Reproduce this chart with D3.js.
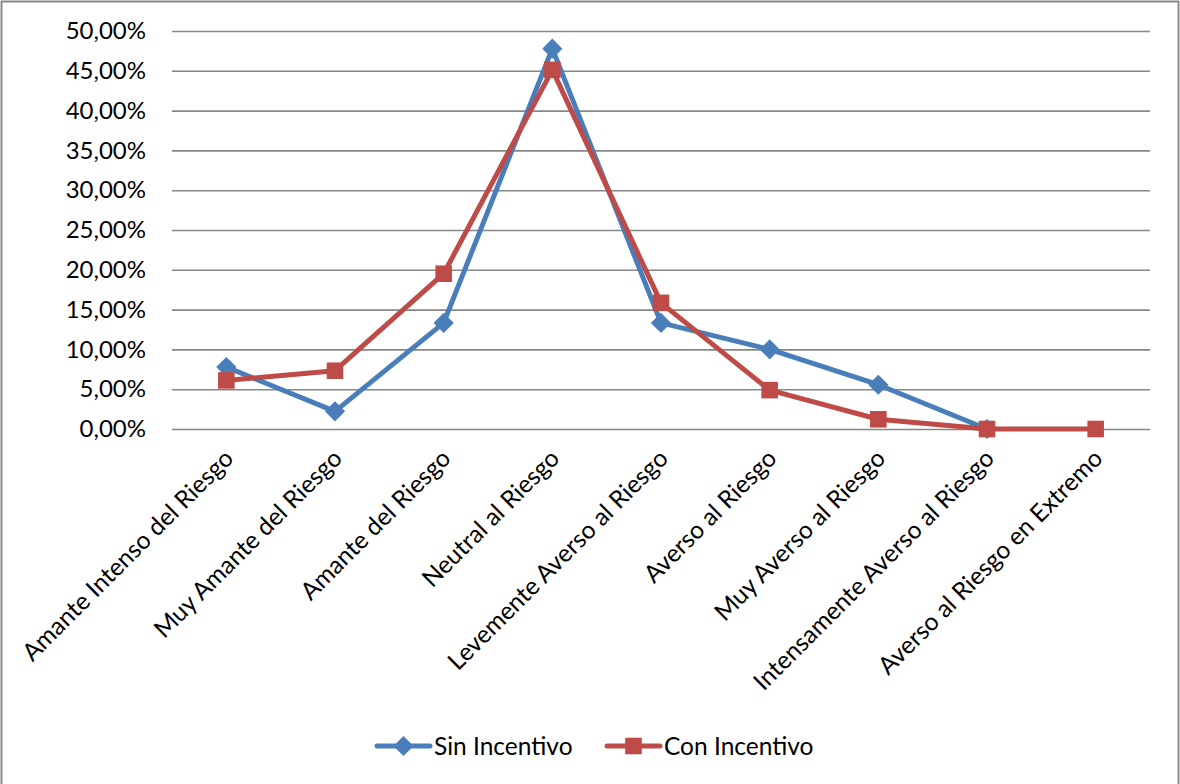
<!DOCTYPE html>
<html>
<head>
<meta charset="utf-8">
<script src="https://cdn.jsdelivr.net/npm/d3@7"></script>
<style>
  html, body { margin: 0; padding: 0; background: #fff; }
  svg { display: block; }
  text { font-family: Lato, "Open Sans", sans-serif; fill: #000; }
</style>
</head>
<body>
<svg id="chart" width="1180" height="784"></svg>
<script>
// Risk-attitude categories
const categories = [
  "Amante Intenso del Riesgo",
  "Muy Amante del Riesgo",
  "Amante del Riesgo",
  "Neutral al Riesgo",
  "Levemente Averso al Riesgo",
  "Averso al Riesgo",
  "Muy Averso al Riesgo",
  "Intensamente Averso al Riesgo",
  "Averso al Riesgo en Extremo"
];
// Share of respondents per category (fractions)
const sinIncentivo = [0.0778, 0.0222, 0.1333, 0.4778, 0.1333, 0.1000, 0.0556, 0.0000, null];
const conIncentivo = [0.0610, 0.0732, 0.1951, 0.4512, 0.1585, 0.0488, 0.0122, 0.0000, 0.0000];
const yTicks = [0, 0.05, 0.10, 0.15, 0.20, 0.25, 0.30, 0.35, 0.40, 0.45, 0.50];
const seriesNames = ["Sin Incentivo", "Con Incentivo"];

const svg = d3.select("#chart");
const W = 1180, H = 784;

// outer frame
svg.append("rect")
  .attr("x", 1.5).attr("y", 1.5)
  .attr("width", W - 3).attr("height", H + 10)
  .attr("fill", "none").attr("stroke", "#8a8a8a").attr("stroke-width", 2);

const plot = { left: 172, right: 1150, top: 31, bottom: 429 };

const x = d3.scalePoint().domain(categories)
  .range([plot.left, plot.right]).padding(0.5);
const y = d3.scaleLinear().domain([0, 0.5]).range([plot.bottom, plot.top]);

const fmt = v => d3.format(".2f")(v * 100).replace(".", ",") + "%";

// horizontal gridlines + y labels
const yAxis = d3.axisLeft(y).tickValues(yTicks).tickFormat(fmt)
  .tickSize(-(plot.right - plot.left)).tickPadding(26);
const gy = svg.append("g").attr("transform", `translate(${plot.left},0)`).call(yAxis);
gy.select(".domain").remove();
gy.selectAll(".tick line").attr("stroke", "#878787").attr("stroke-width", 1.6);
gy.selectAll(".tick text")
  .style("font-family", "Lato, sans-serif").style("font-size", "24px")
  .attr("fill", "#000");

// category labels, rotated
const xAxis = d3.axisBottom(x).tickSize(0).tickPadding(0);
const gx = svg.append("g").attr("transform", `translate(0,${plot.bottom})`).call(xAxis);
gx.select(".domain").remove();
gx.selectAll(".tick text")
  .style("font-family", "Lato, sans-serif").style("font-size", "24.5px")
  .attr("fill", "#000")
  .attr("text-anchor", "end")
  .attr("dy", 0)
  .attr("transform", "translate(8,31) rotate(-45)");

const blue = "#4a7ebb", red = "#be4b48";
const diamondSize = 260, squareSize = 350;

function drawSeries(values, color, marker) {
  const pts = values.map((v, i) => ({ c: categories[i], v })).filter(d => d.v !== null);
  const line = d3.line().x(d => x(d.c)).y(d => y(d.v));
  svg.append("path").datum(pts)
    .attr("d", line).attr("fill", "none")
    .attr("stroke", color).attr("stroke-width", 5)
    .attr("stroke-linejoin", "round").attr("stroke-linecap", "round");
  const sym = d3.symbol().type(marker === "diamond" ? d3.symbolDiamond2 : d3.symbolSquare2)
    .size(marker === "diamond" ? diamondSize : squareSize);
  svg.append("g").selectAll("path").data(pts).join("path")
    .attr("d", sym)
    .attr("transform", d => `translate(${x(d.c)},${y(d.v)})`)
    .attr("fill", color);
}

drawSeries(sinIncentivo, blue, "diamond");
drawSeries(conIncentivo, red, "square");

// legend
const legend = svg.append("g").attr("transform", "translate(0,746)");
const items = [
  { name: seriesNames[0], color: blue, marker: "diamond", x0: 377 },
  { name: seriesNames[1], color: red, marker: "square", x0: 607 }
];
items.forEach(it => {
  legend.append("line")
    .attr("x1", it.x0).attr("x2", it.x0 + 53)
    .attr("y1", 0).attr("y2", 0)
    .attr("stroke", it.color).attr("stroke-width", 5).attr("stroke-linecap", "round");
  legend.append("path")
    .attr("d", d3.symbol().type(it.marker === "diamond" ? d3.symbolDiamond2 : d3.symbolSquare2)
      .size(it.marker === "diamond" ? diamondSize : squareSize))
    .attr("transform", `translate(${it.x0 + 26.5},0)`)
    .attr("fill", it.color);
  legend.append("text")
    .attr("x", it.x0 + 57).attr("y", 0).attr("dy", "0.35em")
    .style("font-size", "24.5px")
    .text(it.name);
});
</script>
</body>
</html>
